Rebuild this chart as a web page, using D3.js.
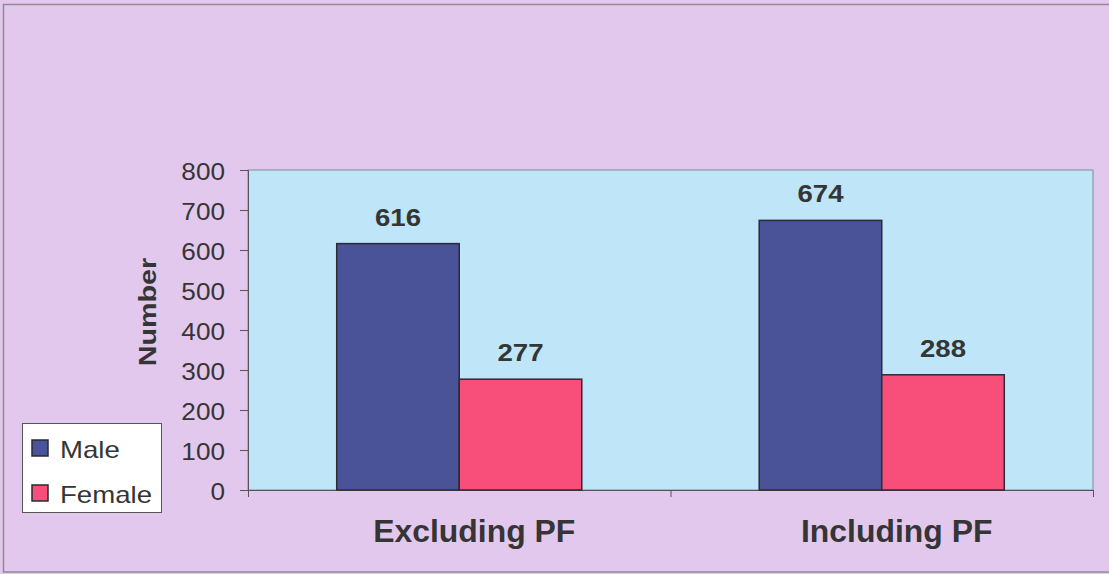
<!DOCTYPE html>
<html>
<head>
<meta charset="utf-8">
<script src="https://cdn.jsdelivr.net/npm/d3@7"></script>
<style>
html,body{margin:0;padding:0;background:#e2c9ee;}
svg{display:block;}
text{font-family:"Liberation Sans",Arial,sans-serif;fill:#353535;}
</style>
</head>
<body>
<svg id="chart" width="1109" height="574"></svg>
<script>
const categories = ["Excluding PF", "Including PF"];
const seriesNames = ["Male", "Female"];
const maleValues = [616, 674];
const femaleValues = [277, 288];
const yTicks = [0, 100, 200, 300, 400, 500, 600, 700, 800];
const colors = {Male: "#4a5298", Female: "#f74f7a"};

const svg = d3.select("#chart");
const W = 1109, H = 574;
const plot = {left: 248, right: 1093, top: 170, bottom: 490};

// outer background + border
svg.append("rect").attr("x", 0).attr("y", 0).attr("width", W).attr("height", H).attr("fill", "#e3c8ee");
svg.append("rect").attr("x", 3.5).attr("y", 4.5).attr("width", W - 1).attr("height", 567.5)
  .attr("fill", "none").attr("stroke", "#8f8a94").attr("stroke-width", 1.5);

const y = d3.scaleLinear().domain([0, 800]).range([plot.bottom, plot.top]);
const x0 = d3.scaleBand().domain(categories).range([plot.left, plot.right]).paddingInner(0.42).paddingOuter(0.21);
const x1 = d3.scaleBand().domain(seriesNames).range([0, x0.bandwidth()]);

// plot area
svg.append("rect").attr("x", plot.left).attr("y", plot.top)
  .attr("width", plot.right - plot.left).attr("height", plot.bottom - plot.top)
  .attr("fill", "#bee6f8").attr("stroke", "#7d8a94").attr("stroke-width", 1);

// y axis
const yAxis = d3.axisLeft(y).tickValues(yTicks).tickSize(8).tickPadding(15);
const gy = svg.append("g").attr("transform", `translate(${plot.left},0)`).call(yAxis);
gy.select(".domain").attr("stroke", "#555");
gy.selectAll(".tick line").attr("stroke", "#555");
gy.selectAll(".tick text").attr("font-size", 24).attr("fill", "#353535")
  .attr("dy", "0.38em")
  .each(function(){
    const t = d3.select(this);
    const xx = +t.attr("x");
    t.attr("x", null).attr("transform", `translate(${xx},0) scale(1.09,1)`);
  });

// x axis
const xAxisScale = d3.scaleLinear().domain([0, 2]).range([plot.left, plot.right]);
const gx = svg.append("g").attr("transform", `translate(0,${plot.bottom})`)
  .call(d3.axisBottom(xAxisScale).tickValues([0, 1, 2]).tickSize(7).tickFormat(""));
gx.select(".domain").attr("stroke", "#555");
gx.selectAll(".tick line").attr("stroke", "#555");

// category labels
svg.append("g").selectAll("text").data(categories).join("text")
  .attr("transform", d => `translate(${x0(d) + x0.bandwidth() / 2 + 15},542) scale(1.03,1)`)
  .attr("text-anchor", "middle")
  .attr("font-size", 31).attr("font-weight", "bold")
  .text(d => d);

// y title
svg.append("text")
  .attr("transform", `translate(156,312) rotate(-90) scale(1.25,1)`)
  .attr("text-anchor", "middle")
  .attr("font-size", 23).attr("font-weight", "bold")
  .text("Number");

// bars
const data = categories.map((c, i) => ({cat: c, vals: [{s: "Male", v: maleValues[i]}, {s: "Female", v: femaleValues[i]}]}));
const groups = svg.append("g").selectAll("g").data(data).join("g")
  .attr("transform", d => `translate(${x0(d.cat)},0)`);
groups.selectAll("rect").data(d => d.vals).join("rect")
  .attr("x", d => x1(d.s))
  .attr("y", d => y(d.v))
  .attr("width", x1.bandwidth())
  .attr("height", d => y(0) - y(d.v))
  .attr("fill", d => colors[d.s])
  .attr("stroke", "#2b2b33").attr("stroke-width", 1.5);
groups.selectAll("text").data(d => d.vals).join("text")
  .attr("transform", d => `translate(${x1(d.s) + x1.bandwidth() / 2},${y(d.v) - 18}) scale(1.15,1)`)
  .attr("text-anchor", "middle")
  .attr("font-size", 24).attr("font-weight", "bold")
  .text(d => d.v);

// legend
const lg = svg.append("g");
lg.append("rect").attr("x", 22.5).attr("y", 423.5).attr("width", 139).attr("height", 89)
  .attr("fill", "#ffffff").attr("stroke", "#555").attr("stroke-width", 1);
const items = lg.selectAll("g").data(seriesNames).join("g")
  .attr("transform", (d, i) => `translate(0,${i * 45})`);
items.append("rect").attr("x", 32).attr("y", 440).attr("width", 16).attr("height", 16)
  .attr("fill", d => colors[d]).attr("stroke", "#2b2b33").attr("stroke-width", 1.5);
items.append("text")
  .attr("transform", `translate(60,458) scale(1.2,1)`)
  .attr("font-size", 23)
  .text(d => d);
</script>
</body>
</html>
